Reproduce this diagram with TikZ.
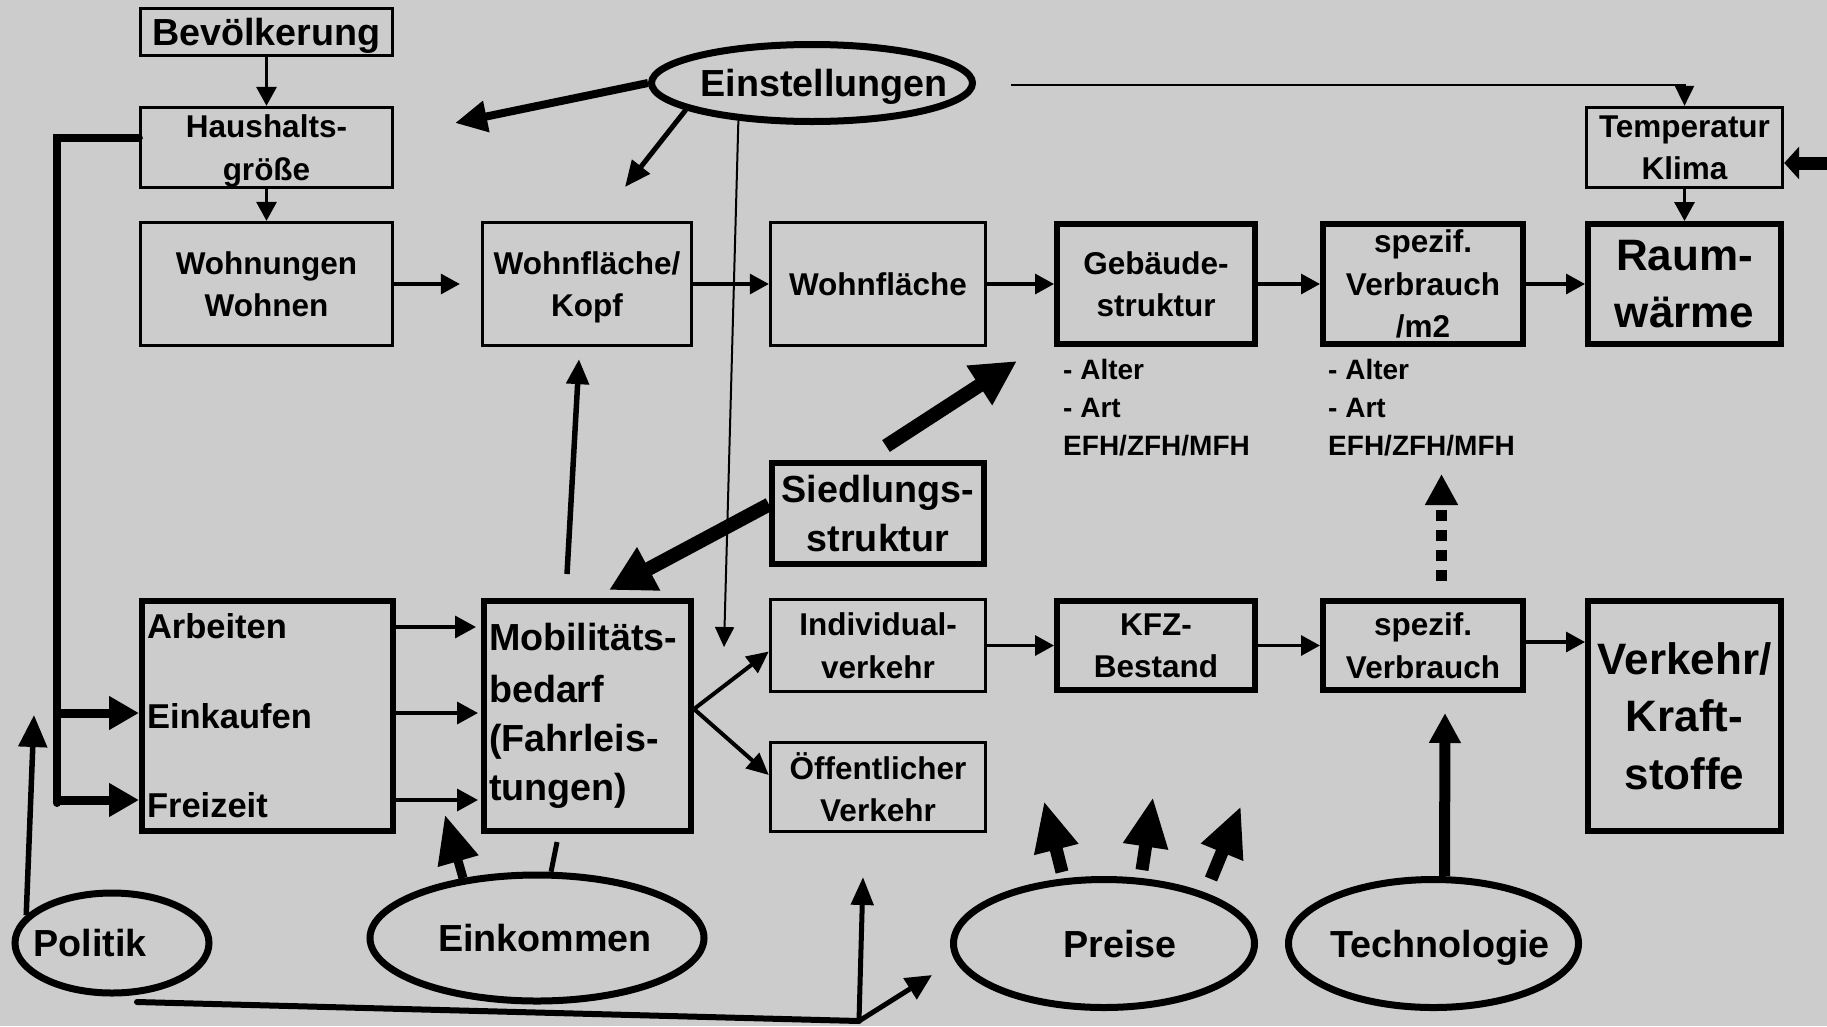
\documentclass[tikz,border=0pt]{standalone}
\usepackage{fontspec}
\setmainfont{Liberation Sans}
\usetikzlibrary{arrows.meta,shapes.geometric,calc}
\definecolor{bgc}{HTML}{CCCCCC}
\begin{document}
\begin{tikzpicture}[x=1pt,y=-1pt,
  tbox/.style={draw, line width=3.3pt, inner sep=0pt, align=center, text depth=0pt},
  kbox/.style={draw, line width=6pt, inner sep=0pt, align=center, text depth=0pt},
  lbox/.style={draw, line width=6pt, inner sep=0pt, align=left},
  oval/.style={draw, ellipse, line width=7pt, inner sep=0pt, text depth=0pt},
  fS/.style={font=\bfseries\fontsize{28pt}{38pt}\selectfont},
  fM/.style={font=\bfseries\fontsize{31.5pt}{42.5pt}\selectfont},
  fA/.style={font=\bfseries\fontsize{34.5pt}{89.5pt}\selectfont},
  fL/.style={font=\bfseries\fontsize{37.7pt}{49pt}\selectfont},
  fX/.style={font=\bfseries\fontsize{44pt}{57.5pt}\selectfont},
  tarr/.style={line width=3.3pt, -{Triangle[length=19pt,width=20pt]}},
  harr/.style={line width=2pt, -{Triangle[length=20pt,width=19pt]}},
  aarr/.style={line width=3.5pt, -{Triangle[length=21pt,width=22pt]}},
  barr/.style={line width=9pt, -{Triangle[length=30pt,width=32pt]}},
  parr/.style={line width=13pt, -{Triangle[length=50pt,width=42pt]}},
  marr/.style={line width=4pt, -{Triangle[length=22pt,width=20pt]}}
]
\fill[bgc] (0,0) rectangle (1827,1026);
\useasboundingbox (0,0) rectangle (1827,1026);

% ---- top row ----
\node[tbox, fL, minimum width=252pt, minimum height=47pt] (bev) at (266.5,32) {Bevölkerung};
\node[tbox, fM, minimum width=252pt, minimum height=80pt] (haus) at (266.5,147.5) {Haushalts-\\größe};
\node[tbox, fM, minimum width=252pt, minimum height=123pt] (wohn) at (266.5,284) {Wohnungen\\Wohnen};
\node[tbox, fM, minimum width=209pt, minimum height=123pt] (wfk) at (587,284) {Wohnfläche/\\Kopf};
\node[tbox, fM, minimum width=215pt, minimum height=123pt] (wfl) at (878,284) {Wohnfläche};
\node[kbox, fM, minimum width=198pt, minimum height=120pt] (geb) at (1156,284) {Gebäude-\\struktur};
\node[kbox, fM, minimum width=200pt, minimum height=120pt] (spez1) at (1423,284) {spezif.\\Verbrauch\\/m2};
\node[kbox, fX, minimum width=193pt, minimum height=120pt] (raum) at (1684.5,284) {Raum-\\wärme};
\node[tbox, fM, minimum width=196pt, minimum height=80pt] (temp) at (1684.5,147.5) {Temperatur\\Klima};

\node[fS, align=left, anchor=west, inner sep=0pt] (gebnote) at (1063,408) {- Alter\\- Art\\EFH/ZFH/MFH};
\node[fS, align=left, anchor=west, inner sep=0pt] (speznote) at (1328,408) {- Alter\\- Art\\EFH/ZFH/MFH};

% ---- middle / bottom boxes ----
\node[kbox, fL, minimum width=212pt, minimum height=101pt] (sied) at (878,513.5) {Siedlungs-\\struktur};
\node[lbox, fA, inner xsep=5pt, text width=241pt, minimum height=230pt] (arb) at (267.5,716) {Arbeiten\\Einkaufen\\Freizeit};
\node[lbox, fL, inner xsep=5pt, text width=197pt, minimum height=230pt] (mob) at (587.5,716) {\vspace*{3pt}Mobilitäts-\\bedarf\\(Fahrleis-\\tungen)};
\node[tbox, fM, minimum width=215pt, minimum height=92pt] (indiv) at (878,645.5) {Individual-\\verkehr};
\node[tbox, fM, minimum width=215pt, minimum height=89pt] (oeff) at (878,787) {Öffentlicher\\Verkehr};
\node[kbox, fM, minimum width=198pt, minimum height=89pt] (kfz) at (1156,645.5) {KFZ-\\Bestand};
\node[kbox, fM, minimum width=200pt, minimum height=89pt] (spez2) at (1423,645.5) {spezif.\\Verbrauch};
\node[kbox, fX, minimum width=193pt, minimum height=230pt] (verk) at (1684.5,716) {Verkehr/\\Kraft-\\stoffe};

% ---- ellipses ----
\node[oval, fL, minimum width=321pt, minimum height=77pt] (einst) at (812,83) {\makebox[0pt]{\hspace*{24pt}Einstellungen}};
\node[oval, fL, minimum width=194pt, minimum height=100pt] (politik) at (112,943) {\makebox[0pt]{\hspace*{-44pt}Politik}};
\node[oval, fL, minimum width=334pt, minimum height=126pt] (eink) at (537,938) {\makebox[0pt]{\hspace*{16pt}Einkommen}};
\node[oval, fL, minimum width=301pt, minimum height=128pt] (preise) at (1104,943.5) {\makebox[0pt]{\hspace*{32pt}Preise}};
\node[oval, fL, minimum width=290pt, minimum height=128pt] (techno) at (1433.5,943.5) {\makebox[0pt]{\hspace*{13pt}Technologie}};

% ---- free end coordinates ----
\coordinate (redge) at (1830,163);
\coordinate (pEL) at (455,123);
\coordinate (pED) at (625,187);
\coordinate (pEV) at (724,647);
\coordinate (pSU) at (1017,361);
\coordinate (lb) at (57,803);
\coordinate (pPU) at (34,715);
\coordinate (pDT) at (1441.5,474);
\coordinate (junc) at (859,1021);
\coordinate (pBU) at (863,877);
\coordinate (pBD) at (932,975);

% ---- top connectors ----
\draw[tarr] (bev) -- (haus);
\draw[tarr] (haus) -- (wohn);
\draw[tarr, shorten >=21pt] (wohn) -- (wfk);
\draw[tarr] (wfk) -- (wfl);
\draw[tarr] (wfl) -- (geb);
\draw[tarr] (geb) -- (spez1);
\draw[tarr] (spez1) -- (raum);
\draw[tarr] (temp) -- (raum);
\draw[harr] ($(einst.east)+(35,2)$) -| (temp.north);
\draw[line width=13pt, -{Triangle[length=15pt,width=32pt]}] (redge) -- (redge -| temp.east);

% ---- Einstellungen ----
\draw[line width=8pt, -{Triangle[length=32pt,width=30pt]}] (einst.west) -- (pEL);
\draw[line width=5pt, -{Triangle[length=26pt,width=22pt]}] (einst.192) -- (pED);
\draw[harr] (einst.207) -- (pEV);

% ---- Mobilitaet / Siedlung ----
\draw[line width=5.5pt, -{Triangle[length=25pt,width=22pt]}] ($(mob.north)+(-20.5,-24)$) -- ($(wfk.south)+(-8,12)$);
\draw[line width=14pt, -{Triangle[length=45pt,width=44pt]}] ($(sied.north)+(8,-14)$) -- (pSU);
\draw[line width=14pt, -{Triangle[length=45pt,width=46pt]}] ($(sied.west)+(0,-9)$) -- ($(mob.north)+(21.5,-8)$);

\draw[aarr, shorten >=5pt] ($(arb.east)+(0,-89)$) -- ($(mob.west)+(0,-89)$);
\draw[aarr, shorten >=3pt] ($(arb.east)+(0,-3)$) -- ($(mob.west)+(0,-3)$);
\draw[aarr, shorten >=3pt] ($(arb.east)+(0,84)$) -- ($(mob.west)+(0,84)$);

% ---- left feedback line ----
\draw[line width=8pt, line cap=round] ($(haus.west)+(0,-10)$) -| (lb);
\draw[barr] ($(lb |- arb.west)+(0,-3)$) -- ($(arb.west)+(0,-3)$);
\draw[barr] ($(lb)+(0,-3)$) -- ($(lb -| arb.west)+(0,-3)$);

% ---- Politik, Einkommen ----
\draw[line width=5.5pt, -{Triangle[length=32pt,width=28pt]}] (politik.162) -- (pPU);
\draw[line width=9pt, -{Triangle[length=48pt,width=40pt]}] (eink.141) -- ($(mob.south west)+(-36,-19)$);
\draw[line width=5pt] (eink.78) -- ($(mob.south)+(-30.5,8)$);

% ---- Verkehr chain ----
\draw[marr] ($(mob.east)+(0,-7)$) -- ($(indiv.west)+(0,6)$);
\draw[marr] ($(mob.east)+(0,-7)$) -- ($(oeff.west)+(0,-12)$);
\draw[tarr] (indiv) -- (kfz);
\draw[tarr] (kfz) -- (spez2);
\draw[tarr] ($(spez2.east)+(0,-3.5)$) -- ($(spez2.east -| verk.west)+(0,-3.5)$);
\draw[line width=11pt, dash pattern=on 11pt off 9pt, -{Triangle[length=31pt,width=31pt]}] ($(spez2.north)+(18.5,-17)$) -- (pDT);
\draw[line width=11pt, -{Triangle[length=30pt,width=30pt]}] ($(techno.north)+(11,0)$) -- ($(spez2.south)+(22,20)$);

% ---- Preise ----
\draw[parr] ($(preise)+(-42,-71.5)$) -- ($(preise)+(-60,-142.5)$);
\draw[parr] ($(preise)+(38,-73.5)$) -- ($(preise)+(49,-146.5)$);
\draw[parr] ($(preise)+(107,-64.5)$) -- ($(preise)+(137,-137.5)$);

% ---- bottom line ----
\draw[line width=6pt, line cap=round] ($(politik)+(25,59)$) -- (junc);
\draw[line width=5pt, -{Triangle[length=28pt,width=22pt]}] (junc) -- (pBU);
\draw[line width=5pt, -{Triangle[length=26pt,width=24pt]}] (junc) -- (pBD);
\end{tikzpicture}
\end{document}
